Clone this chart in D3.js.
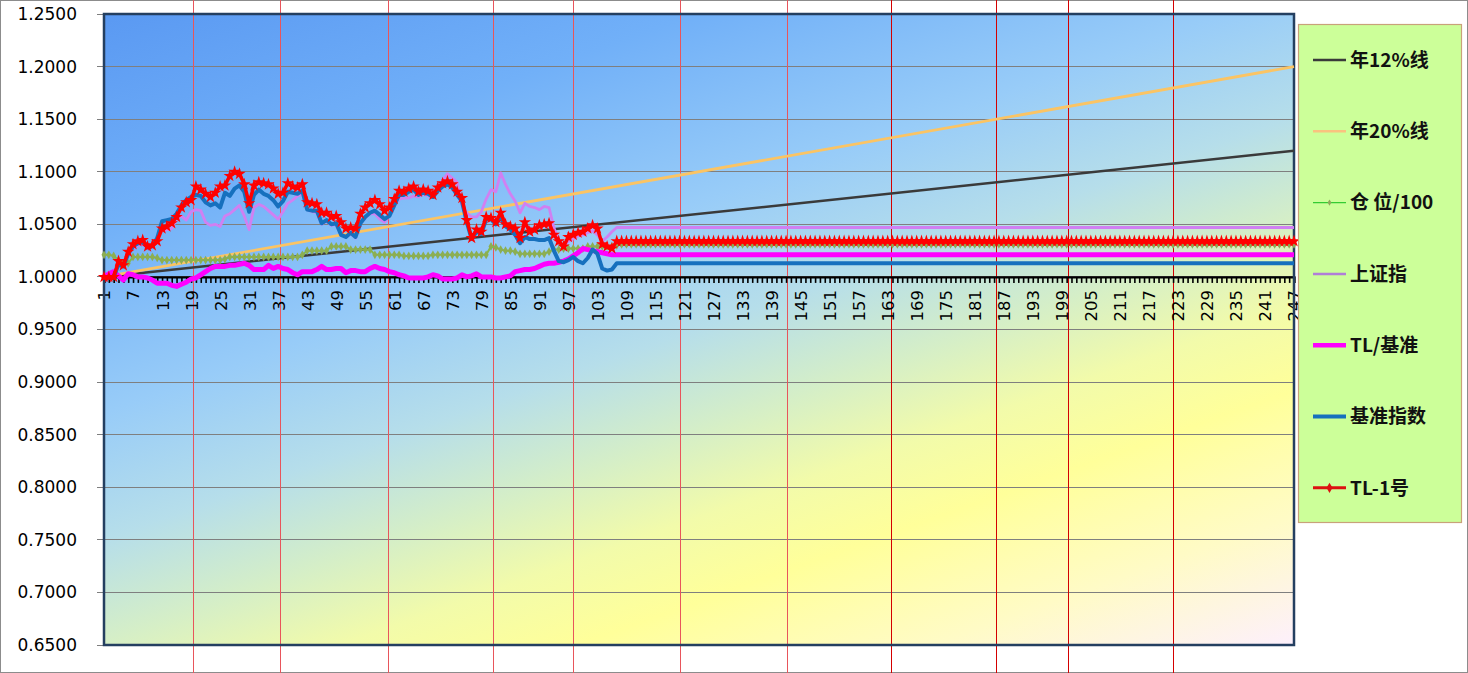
<!DOCTYPE html>
<html><head><meta charset="utf-8">
<script src="https://cdn.jsdelivr.net/npm/d3@7"></script>
<style>body{margin:0;background:#fff;} svg{display:block;}</style>
</head><body><svg id="c" width="1468" height="673"></svg>
<script>
// ---------- data ----------
const categories = d3.range(1, 248);
const yTickValues = [0.65,0.70,0.75,0.80,0.85,0.90,0.95,1.00,1.05,1.10,1.15,1.20,1.25];
const xTickLabels = categories.filter(c => (c - 1) % 6 === 0);
const markerLineCats = [19.4,37.4,59.7,81.4,97.9,120.1,142.2,163.7,185.4,200.2,221.9];

const line12Ends = [1.000, 1.120];   // 年12%线 (cat 1, cat 247)
const line20Ends = [1.000, 1.200];   // 年20%线

const positionObserved = [
1.021,1.021,1.020,1.016,1.013,1.013,1.019,1.019,1.019,1.019,
1.019,1.018,1.016,1.016,1.016,1.016,1.016,1.016,1.016,1.016,
1.016,1.016,1.016,1.016,1.016,1.017,1.019,1.019,1.019,1.019,
1.019,1.019,1.019,1.019,1.019,1.019,1.019,1.019,1.019,1.019,
1.019,1.021,1.025,1.025,1.025,1.025,1.025,1.029,1.029,1.029,
1.029,1.026,1.026,1.026,1.026,1.026,1.021,1.021,1.021,1.021,
1.021,1.021,1.020,1.020,1.020,1.020,1.020,1.020,1.021,1.021,
1.021,1.021,1.021,1.021,1.021,1.021,1.021,1.021,1.021,1.021,
1.029,1.028,1.026,1.025,1.025,1.024,1.022,1.022,1.022,1.022,
1.022,1.022,1.024,1.026,1.026,1.027,1.027,1.027,1.027,1.027,
1.029,1.029,1.029,1.029,1.029,1.029,1.030];
const positionSettled = 1.031;

const shanghaiObserved = [
1.000,1.000,1.003,1.010,1.012,1.022,1.027,1.030,1.031,1.027,
1.028,1.036,1.044,1.045,1.046,1.055,1.058,1.054,1.062,1.064,
1.063,1.052,1.049,1.050,1.048,1.058,1.060,1.064,1.068,1.058,
1.045,1.066,1.069,1.067,1.063,1.059,1.055,1.062,1.070,1.073,
1.077,1.079,1.064,1.062,1.061,1.050,1.053,1.049,1.050,1.040,
1.038,1.041,1.037,1.051,1.056,1.060,1.060,1.055,1.052,1.058,
1.068,1.074,1.075,1.075,1.077,1.076,1.079,1.077,1.076,1.085,
1.092,1.098,1.094,1.090,1.068,1.061,1.057,1.057,1.062,1.074,
1.083,1.081,1.099,1.088,1.079,1.072,1.061,1.070,1.067,1.066,
1.064,1.067,1.066,1.047,1.034,1.030,1.034,1.036,1.039,1.040,
1.042,1.044,1.040,1.034,1.038,1.043,1.047];
const shanghaiSettled = 1.047;

const ratioObserved = [
1.000,1.003,1.005,1.001,0.997,1.003,1.002,1.000,1.000,0.999,
0.997,0.994,0.994,0.994,0.992,0.991,0.993,0.995,0.998,0.999,
1.002,1.005,1.008,1.010,1.010,1.010,1.011,1.011,1.012,1.013,
1.011,1.007,1.007,1.007,1.011,1.008,1.010,1.008,1.007,1.004,
1.002,1.005,1.005,1.005,1.007,1.010,1.007,1.007,1.008,1.008,
1.004,1.006,1.006,1.005,1.005,1.008,1.010,1.008,1.007,1.005,
1.004,1.002,1.001,0.999,0.999,0.999,0.999,1.000,1.002,1.001,
0.998,0.998,0.998,0.999,1.002,1.000,1.001,1.003,1.000,1.000,
1.000,0.999,0.999,1.000,1.001,1.005,1.006,1.007,1.007,1.008,
1.010,1.012,1.013,1.013,1.014,1.015,1.017,1.020,1.023,1.027,
1.026,1.025,1.024,1.023,1.022,1.021,1.021];
const ratioSettled = 1.021;

const benchObserved = [
1.000,1.000,1.000,1.012,1.010,1.022,1.029,1.032,1.033,1.028,
1.029,1.037,1.053,1.054,1.055,1.060,1.068,1.073,1.076,1.078,
1.077,1.071,1.068,1.070,1.066,1.080,1.077,1.084,1.087,1.081,
1.062,1.078,1.083,1.079,1.077,1.073,1.067,1.072,1.081,1.080,
1.079,1.082,1.064,1.063,1.063,1.051,1.054,1.050,1.051,1.040,
1.038,1.042,1.038,1.051,1.057,1.061,1.063,1.059,1.055,1.058,
1.068,1.078,1.078,1.081,1.083,1.078,1.080,1.079,1.076,1.082,
1.086,1.088,1.085,1.078,1.072,1.052,1.036,1.043,1.041,1.055,
1.055,1.050,1.057,1.048,1.045,1.040,1.032,1.038,1.036,1.036,
1.035,1.035,1.037,1.025,1.015,1.014,1.016,1.019,1.015,1.013,
1.018,1.026,1.022,1.008,1.006,1.007,1.013];
const benchSettled = 1.013;

const tl1Observed = [
1.000,1.000,1.000,1.015,1.011,1.024,1.031,1.034,1.035,1.029,
1.030,1.034,1.046,1.048,1.051,1.057,1.066,1.071,1.073,1.086,
1.083,1.079,1.076,1.080,1.086,1.087,1.096,1.100,1.098,1.088,
1.070,1.087,1.090,1.089,1.088,1.084,1.079,1.080,1.089,1.086,
1.085,1.088,1.071,1.070,1.069,1.061,1.061,1.057,1.058,1.052,
1.046,1.047,1.046,1.060,1.066,1.070,1.073,1.069,1.063,1.066,
1.074,1.082,1.081,1.084,1.086,1.081,1.083,1.082,1.078,1.085,
1.089,1.091,1.088,1.081,1.075,1.054,1.037,1.045,1.043,1.057,
1.056,1.052,1.061,1.050,1.048,1.046,1.037,1.052,1.043,1.045,
1.049,1.050,1.051,1.040,1.034,1.029,1.038,1.040,1.042,1.043,
1.046,1.049,1.046,1.031,1.029,1.027,1.034];
const tl1Settled = 1.034;

const legendLabels = ["年12%线","年20%线","仓 位/100","上证指","TL/基准","基准指数","TL-1号"];

// ---------- helpers ----------
function fullSeries(obs, settled) {
  return categories.map((c, i) => i < obs.length ? obs[i] : settled);
}

// ---------- layout ----------
const svg = d3.select("#c");
const L = 104, R = 1294, T = 14, B = 645;
const x = d3.scaleLinear().domain([1, 247]).range([L, R]);
const y = d3.scaleLinear().domain([0.65, 1.25]).range([B, T]);

svg.append("rect").attr("x",0.5).attr("y",0.5).attr("width",1467).attr("height",672)
  .attr("fill","#fff").attr("stroke","#8c8c8c");

const defs = svg.append("defs");
const g = defs.append("linearGradient").attr("id","bg")
  .attr("x1",0).attr("y1",0).attr("x2",0.77).attr("y2",1.15);
[[0,"#5a99f2"],[0.2,"#71b0f8"],[0.38,"#98ccf8"],[0.5,"#b6deea"],[0.6,"#d6efc6"],[0.68,"#f2fbaa"],[0.76,"#ffff9a"],[0.88,"#fffbc6"],[1,"#fdf0fb"]]
  .forEach(s => g.append("stop").attr("offset",s[0]).attr("stop-color",s[1]));

svg.append("rect").attr("x",L).attr("y",T).attr("width",R-L).attr("height",B-T).attr("fill","url(#bg)");

svg.append("g").selectAll("line").data(yTickValues).join("line")
  .attr("x1",L-7).attr("x2",R).attr("y1",d=>y(d)).attr("y2",d=>y(d))
  .attr("stroke","#7f7f7f").attr("stroke-width",1).attr("shape-rendering","crispEdges");

const ya = svg.append("g").attr("transform",`translate(${L},0)`)
  .call(d3.axisLeft(y).tickValues(yTickValues).tickFormat(d3.format(".4f")).tickSize(0).tickPadding(27));
ya.select(".domain").remove();
ya.selectAll("text").style("font-family","'DejaVu Sans', Verdana, sans-serif").style("font-size","17px").attr("fill","#000");

svg.append("g").selectAll("line").data(markerLineCats).join("line")
  .attr("x1",d=>Math.round(x(d))+0.5).attr("x2",d=>Math.round(x(d))+0.5).attr("y1",0).attr("y2",673)
  .attr("stroke",(d,i)=> i>=7 ? "#d40000" : "#e8555b").attr("stroke-width",1);

const xa = svg.append("g").attr("transform",`translate(0,${y(1.0)})`)
  .call(d3.axisBottom(x).tickValues(categories).tickSize(6)
    .tickFormat(d => xTickLabels.includes(d) ? d : ""));
xa.select(".domain").attr("stroke","#000").attr("stroke-width",2.2);
xa.selectAll(".tick line").attr("stroke","#000").attr("stroke-width",1.6);
xa.selectAll("text").attr("transform","rotate(-90)").attr("x",-13).attr("y",0).attr("dy","0.36em")
  .style("text-anchor","end").style("font-family","'DejaVu Sans', Verdana, sans-serif").style("font-size","16.5px").attr("fill","#000");

svg.append("rect").attr("x",L).attr("y",T).attr("width",R-L).attr("height",B-T)
  .attr("fill","none").attr("stroke","#243f60").attr("stroke-width",2.5);

const lineGen = d3.line().x(d=>x(d.c)).y(d=>y(d.v));
const toPts = arr => arr.map((v,i)=>({c:categories[i], v}));

const plot = svg.append("g");
plot.append("path").datum([{c:1,v:line12Ends[0]},{c:247,v:line12Ends[1]}]).attr("d",lineGen)
  .attr("fill","none").attr("stroke","#3a3a3a").attr("stroke-width",2.5);
plot.append("path").datum([{c:1,v:line20Ends[0]},{c:247,v:line20Ends[1]}]).attr("d",lineGen)
  .attr("fill","none").attr("stroke","#fbc464").attr("stroke-width",2.8);

const posPts = toPts(fullSeries(positionObserved, positionSettled));
plot.append("path").datum(posPts).attr("d",lineGen).attr("fill","none").attr("stroke","#84b84c").attr("stroke-width",2);
plot.append("g").selectAll("path").data(posPts).join("path")
  .attr("transform",d=>`translate(${x(d.c)},${y(d.v)})`)
  .attr("d",d3.symbol(d3.symbolDiamond,22)).attr("fill","#8cae52");

plot.append("path").datum(toPts(fullSeries(shanghaiObserved, shanghaiSettled))).attr("d",lineGen)
  .attr("fill","none").attr("stroke","#d080f2").attr("stroke-width",2.8).attr("stroke-linejoin","round");
plot.append("path").datum(toPts(fullSeries(ratioObserved, ratioSettled))).attr("d",lineGen)
  .attr("fill","none").attr("stroke","#ff00ff").attr("stroke-width",5).attr("stroke-linejoin","round");
plot.append("path").datum(toPts(fullSeries(benchObserved, benchSettled))).attr("d",lineGen)
  .attr("fill","none").attr("stroke","#1670be").attr("stroke-width",4).attr("stroke-linejoin","round");

const tlPts = toPts(fullSeries(tl1Observed, tl1Settled));
plot.append("path").datum(tlPts).attr("d",lineGen)
  .attr("fill","none").attr("stroke","#ff0000").attr("stroke-width",3.5).attr("stroke-linejoin","round");
plot.append("g").selectAll("path").data(tlPts).join("path")
  .attr("transform",d=>`translate(${x(d.c)},${y(d.v)})`)
  .attr("d",d3.symbol(d3.symbolStar,48)).attr("fill","#ff0000");

const lg = svg.append("g");
lg.append("rect").attr("x",1298.5).attr("y",24.5).attr("width",163).attr("height",498)
  .attr("fill","#ccff99").attr("stroke","#c8a27a").attr("stroke-width",1.2);
const legendStyles = [
  {c:"#3a3a3a", w:2.5}, {c:"#f9c27f", w:2.5}, {c:"#33cc33", w:1.2, m:"#8fa85a", ms:12},
  {c:"#b07ed8", w:2.5}, {c:"#ff00ff", w:4.5}, {c:"#1670be", w:4}, {c:"#dd1010", w:3, m:"#dd1010", ms:30}
];
legendLabels.forEach((t,i) => {
  const cy = 60 + i*71.3;
  const s = legendStyles[i];
  lg.append("line").attr("x1",1313).attr("x2",1346).attr("y1",cy).attr("y2",cy)
    .attr("stroke",s.c).attr("stroke-width",s.w);
  if (s.m) lg.append("path").attr("transform",`translate(1329.5,${cy})`)
    .attr("d",d3.symbol(d3.symbolDiamond,s.ms)).attr("fill",s.m);
  lg.append("text").attr("x",1350).attr("y",cy).attr("dy","0.36em").text(t)
    .style("font-family","'Noto Sans CJK SC', sans-serif").style("font-weight","bold")
    .style("font-size","19px").attr("fill","#111");
});
</script></body></html>
